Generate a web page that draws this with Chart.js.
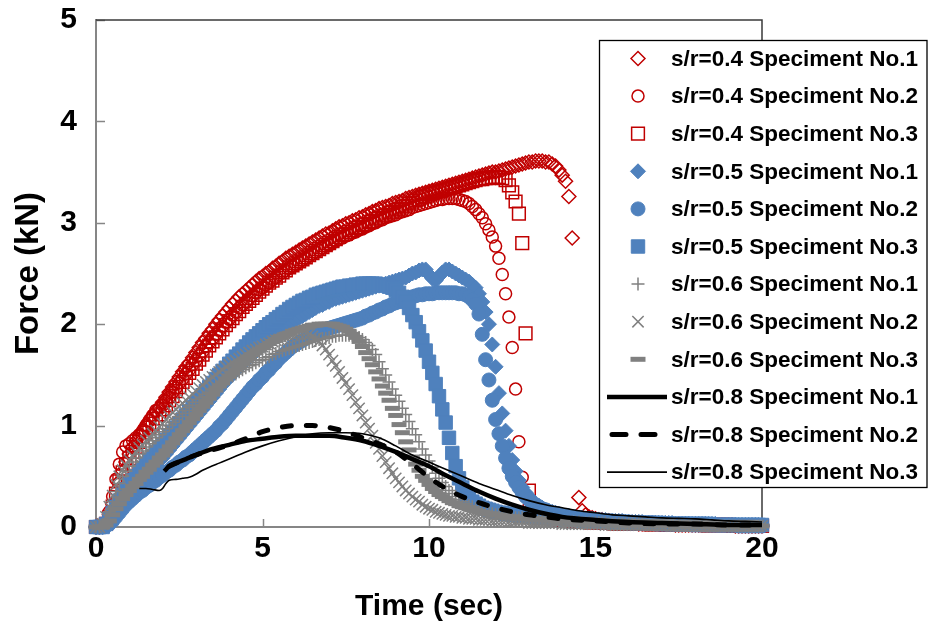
<!DOCTYPE html>
<html>
<head>
<meta charset="utf-8">
<script src="https://cdn.jsdelivr.net/npm/chart.js@4.4.0/dist/chart.umd.min.js"></script>
<style>
  body { margin: 0; background: #fff; }
  #wrap { width: 928px; height: 629px; }
</style>
</head>
<body>
<div id="wrap"><canvas id="forceChart" width="928" height="629"></canvas></div>
<script>
// sample times (sec) shared by the marker series, one row per second
const time = [
  0,0.1,0.2,0.3,0.4,0.5,0.6,0.7,0.8,0.9,
  1,1.1,1.2,1.3,1.4,1.5,1.6,1.7,1.8,1.9,
  2,2.1,2.2,2.3,2.4,2.5,2.6,2.7,2.8,2.9,
  3,3.1,3.2,3.3,3.4,3.5,3.6,3.7,3.8,3.9,
  4,4.1,4.2,4.3,4.4,4.5,4.6,4.7,4.8,4.9,
  5,5.1,5.2,5.3,5.4,5.5,5.6,5.7,5.8,5.9,
  6,6.1,6.2,6.3,6.4,6.5,6.6,6.7,6.8,6.9,
  7,7.1,7.2,7.3,7.4,7.5,7.6,7.7,7.8,7.9,
  8,8.1,8.2,8.3,8.4,8.5,8.6,8.7,8.8,8.9,
  9,9.1,9.2,9.3,9.4,9.5,9.6,9.7,9.8,9.9,
  10,10.1,10.2,10.3,10.4,10.5,10.6,10.7,10.8,10.9,
  11,11.1,11.2,11.3,11.4,11.5,11.6,11.7,11.8,11.9,
  12,12.1,12.2,12.3,12.4,12.5,12.6,12.7,12.8,12.9,
  13,13.1,13.2,13.3,13.4,13.5,13.6,13.7,13.8,13.9,
  14,14.1,14.2,14.3,14.4,14.5,14.6,14.7,14.8,14.9,
  15,15.1,15.2,15.3,15.4,15.5,15.6,15.7,15.8,15.9,
  16,16.1,16.2,16.3,16.4,16.5,16.6,16.7,16.8,16.9,
  17,17.1,17.2,17.3,17.4,17.5,17.6,17.7,17.8,17.9,
  18,18.1,18.2,18.3,18.4,18.5,18.6,18.7,18.8,18.9,
  19,19.1,19.2,19.3,19.4,19.5,19.6,19.7,19.8,19.9,
  20
];

// force (kN) at each sample time
const s04n1 = [
  0,0,0.02,0.06,0.12,0.23,0.35,0.45,0.55,0.64,
  0.72,0.79,0.85,0.9,0.95,1.0,1.05,1.1,1.14,1.18,
  1.23,1.28,1.33,1.38,1.43,1.48,1.53,1.58,1.62,1.67,
  1.72,1.77,1.82,1.86,1.91,1.95,2.0,2.04,2.08,2.12,
  2.16,2.2,2.23,2.27,2.3,2.33,2.36,2.39,2.42,2.45,
  2.47,2.5,2.52,2.55,2.57,2.6,2.62,2.65,2.67,2.69,
  2.71,2.73,2.75,2.77,2.79,2.81,2.83,2.85,2.87,2.89,
  2.9,2.92,2.94,2.96,2.97,2.99,3.0,3.02,3.03,3.05,
  3.06,3.08,3.09,3.11,3.12,3.14,3.15,3.16,3.17,3.19,
  3.2,3.21,3.22,3.24,3.25,3.26,3.27,3.28,3.29,3.3,
  3.31,3.32,3.33,3.34,3.35,3.36,3.37,3.38,3.39,3.4,
  3.41,3.42,3.43,3.44,3.45,3.46,3.47,3.48,3.49,3.5,
  3.5,3.51,3.52,3.53,3.54,3.55,3.56,3.57,3.58,3.59,
  3.6,3.6,3.61,3.61,3.61,3.6,3.6,3.58,3.56,3.52,
  3.47,3.41,3.26,2.85,null,0.29,0.16,0.12,0.1,0.09,
  0.08,0.07,0.07,0.06,0.06,0.05,0.05,0.05,0.04,0.04,
  0.04,0.04,0.04,0.03,0.03,0.03,0.03,0.03,0.03,0.03,
  0.03,0.03,0.03,0.03,0.02,0.02,0.02,0.02,0.02,0.02,
  0.02,0.02,0.02,0.02,0.02,0.02,0.02,0.02,0.02,0.02,
  0.02,0.02,0.01,0.01,0.01,0.01,0.01,0.01,0.01,0.01,
  0.01
];
const s04n2 = [
  0,0,0.02,0.05,0.15,0.3,0.47,0.62,0.74,0.8,
  0.82,0.85,0.88,0.91,0.95,1.0,1.05,1.1,1.15,1.17,
  1.2,1.24,1.28,1.33,1.37,1.42,1.46,1.51,1.55,1.6,
  1.64,1.69,1.73,1.78,1.82,1.86,1.9,1.94,1.98,2.02,
  2.05,2.09,2.12,2.16,2.19,2.22,2.25,2.28,2.31,2.34,
  2.36,2.39,2.41,2.44,2.46,2.49,2.51,2.53,2.55,2.57,
  2.59,2.61,2.63,2.65,2.67,2.69,2.71,2.73,2.75,2.77,
  2.78,2.8,2.82,2.84,2.85,2.87,2.88,2.9,2.91,2.93,
  2.94,2.96,2.97,2.99,3.0,3.02,3.03,3.05,3.06,3.07,
  3.08,3.1,3.11,3.12,3.13,3.15,3.16,3.17,3.18,3.19,
  3.2,3.21,3.22,3.23,3.23,3.24,3.24,3.24,3.24,3.23,
  3.22,3.21,3.19,3.16,3.13,3.09,3.05,2.99,2.93,2.86,
  2.77,2.65,2.49,2.3,2.07,1.77,1.36,0.84,0.49,0.3,
  0.2,0.16,0.13,0.11,0.1,0.09,0.08,0.08,0.07,0.07,
  0.06,0.06,0.06,0.05,0.05,0.05,0.05,0.04,0.04,0.04,
  0.04,0.04,0.04,0.04,0.03,0.03,0.03,0.03,0.03,0.03,
  0.03,0.03,0.03,0.03,0.03,0.02,0.02,0.02,0.02,0.02,
  0.02,0.02,0.02,0.02,0.02,0.02,0.02,0.02,0.02,0.02,
  0.02,0.02,0.01,0.01,0.01,0.01,0.01,0.01,0.01,0.01,
  0.01,0.01,0.01,0.01,0.01,0.01,0.01,0.01,0.01,0.01,
  0.01
];
const s04n3 = [
  0,0,0.01,0.03,0.1,0.2,0.33,0.45,0.54,0.62,
  0.68,0.74,0.79,0.84,0.89,0.93,0.98,1.02,1.07,1.11,
  1.16,1.2,1.25,1.29,1.34,1.38,1.43,1.47,1.52,1.56,
  1.61,1.65,1.7,1.74,1.79,1.83,1.87,1.91,1.95,1.99,
  2.03,2.06,2.1,2.13,2.17,2.2,2.23,2.26,2.29,2.32,
  2.35,2.38,2.41,2.43,2.46,2.48,2.51,2.53,2.56,2.58,
  2.6,2.62,2.64,2.66,2.68,2.7,2.72,2.74,2.76,2.78,
  2.8,2.82,2.84,2.86,2.88,2.89,2.91,2.93,2.95,2.96,
  2.98,2.99,3.01,3.02,3.04,3.05,3.07,3.08,3.1,3.11,
  3.13,3.14,3.16,3.17,3.19,3.2,3.22,3.23,3.25,3.26,
  3.28,3.29,3.3,3.31,3.32,3.33,3.34,3.35,3.36,3.37,
  3.38,3.39,3.4,3.41,3.42,3.43,3.43,3.44,3.44,3.45,
  3.45,3.45,3.44,3.42,3.37,3.3,3.21,3.09,2.8,1.91,
  0.36,0.2,0.16,0.14,0.12,0.11,0.1,0.09,0.08,0.08,
  0.07,0.07,0.07,0.06,0.06,0.06,0.05,0.05,0.05,0.05,
  0.05,0.04,0.04,0.04,0.04,0.04,0.04,0.03,0.03,0.03,
  0.03,0.03,0.03,0.03,0.03,0.03,0.03,0.03,0.03,0.03,
  0.03,0.02,0.02,0.02,0.02,0.02,0.02,0.02,0.02,0.02,
  0.02,0.02,0.02,0.02,0.02,0.02,0.02,0.02,0.02,0.02,
  0.02,0.01,0.01,0.01,0.01,0.01,0.01,0.01,0.01,0.01,
  0.01
];

const s05n1 = [
  0,0,0,0.02,0.05,0.1,0.15,0.2,0.25,0.29,
  0.33,0.37,0.4,0.44,0.47,0.51,0.54,0.58,0.61,0.65,
  0.68,0.72,0.76,0.8,0.84,0.88,0.92,0.96,1.0,1.04,
  1.08,1.12,1.16,1.2,1.24,1.28,1.32,1.36,1.4,1.44,
  1.47,1.51,1.54,1.58,1.61,1.64,1.67,1.7,1.73,1.76,
  1.79,1.82,1.85,1.88,1.9,1.93,1.95,1.98,2.0,2.02,
  2.04,2.06,2.08,2.1,2.12,2.14,2.16,2.18,2.19,2.21,
  2.22,2.24,2.25,2.26,2.27,2.28,2.29,2.3,2.31,2.32,
  2.33,2.34,2.35,2.36,2.37,2.38,2.39,2.4,2.41,2.42,
  2.43,2.44,2.45,2.46,2.48,2.5,2.51,2.53,2.54,2.54,
  2.49,2.45,2.43,2.47,2.51,2.54,2.54,2.52,2.5,2.48,
  2.46,2.44,2.42,2.39,2.36,2.3,2.22,2.12,2.0,1.8,
  1.58,1.32,1.12,0.95,0.8,0.66,0.55,0.46,0.39,0.34,
  0.3,0.26,0.23,0.21,0.19,0.17,0.16,0.15,0.14,0.13,
  0.12,0.11,0.11,0.1,0.1,0.09,0.09,0.08,0.08,0.08,
  0.07,0.07,0.07,0.07,0.06,0.06,0.06,0.06,0.06,0.05,
  0.05,0.05,0.05,0.05,0.05,0.04,0.04,0.04,0.04,0.04,
  0.04,0.04,0.04,0.04,0.03,0.03,0.03,0.03,0.03,0.03,
  0.03,0.03,0.03,0.03,0.03,0.03,0.03,0.02,0.02,0.02,
  0.02,0.02,0.02,0.02,0.02,0.02,0.02,0.02,0.02,0.02,
  0.02
];
const s05n2 = [
  0,0,0,0.01,0.03,0.06,0.1,0.14,0.18,0.22,
  0.25,0.28,0.31,0.34,0.36,0.39,0.41,0.44,0.46,0.49,
  0.51,0.54,0.56,0.59,0.61,0.64,0.66,0.69,0.71,0.74,
  0.77,0.8,0.83,0.86,0.89,0.92,0.95,0.99,1.02,1.06,
  1.1,1.14,1.18,1.22,1.26,1.3,1.34,1.38,1.41,1.45,
  1.48,1.52,1.55,1.59,1.62,1.66,1.69,1.72,1.75,1.78,
  1.8,1.82,1.84,1.86,1.88,1.9,1.91,1.93,1.94,1.95,
  1.96,1.97,1.98,1.99,2.0,2.01,2.02,2.03,2.04,2.05,
  2.06,2.08,2.09,2.11,2.12,2.14,2.15,2.17,2.18,2.2,
  2.21,2.23,2.24,2.25,2.26,2.27,2.28,2.29,2.29,2.3,
  2.3,2.3,2.31,2.31,2.31,2.31,2.31,2.31,2.31,2.3,
  2.3,2.29,2.27,2.24,2.2,2.1,1.9,1.65,1.45,1.25,
  1.06,0.92,0.8,0.68,0.58,0.5,0.44,0.39,0.34,0.3,
  0.27,0.24,0.22,0.2,0.18,0.17,0.15,0.14,0.13,0.12,
  0.11,0.11,0.1,0.1,0.09,0.09,0.08,0.08,0.08,0.07,
  0.07,0.07,0.06,0.06,0.06,0.06,0.05,0.05,0.05,0.05,
  0.05,0.04,0.04,0.04,0.04,0.04,0.04,0.04,0.03,0.03,
  0.03,0.03,0.03,0.03,0.03,0.03,0.03,0.03,0.03,0.02,
  0.02,0.02,0.02,0.02,0.02,0.02,0.02,0.02,0.02,0.02,
  0.02,0.02,0.02,0.01,0.01,0.01,0.01,0.01,0.01,0.01,
  0.01
];
const s05n3 = [
  0,0,0,0.03,0.08,0.14,0.2,0.26,0.32,0.37,
  0.42,0.46,0.5,0.54,0.58,0.62,0.66,0.7,0.74,0.78,
  0.82,0.86,0.9,0.94,0.98,1.02,1.06,1.1,1.14,1.18,
  1.22,1.26,1.3,1.34,1.38,1.42,1.46,1.5,1.54,1.57,
  1.61,1.64,1.68,1.71,1.75,1.78,1.82,1.85,1.88,1.91,
  1.94,1.97,2.0,2.02,2.05,2.07,2.1,2.12,2.15,2.17,
  2.19,2.21,2.23,2.24,2.26,2.27,2.29,2.3,2.31,2.32,
  2.33,2.34,2.35,2.36,2.37,2.37,2.38,2.38,2.39,2.39,
  2.4,2.4,2.4,2.4,2.4,2.39,2.39,2.38,2.37,2.36,
  2.34,2.31,2.27,2.22,2.16,2.09,2.02,1.93,1.84,1.74,
  1.63,1.52,1.41,1.29,1.16,1.03,0.88,0.73,0.6,0.48,
  0.39,0.32,0.28,0.25,0.23,0.21,0.19,0.18,0.17,0.16,
  0.15,0.14,0.14,0.13,0.13,0.12,0.12,0.11,0.11,0.11,
  0.1,0.1,0.1,0.09,0.09,0.09,0.09,0.08,0.08,0.08,
  0.08,0.07,0.07,0.07,0.07,0.07,0.06,0.06,0.06,0.06,
  0.06,0.06,0.05,0.05,0.05,0.05,0.05,0.05,0.05,0.04,
  0.04,0.04,0.04,0.04,0.04,0.04,0.04,0.04,0.04,0.04,
  0.03,0.03,0.03,0.03,0.03,0.03,0.03,0.03,0.03,0.03,
  0.03,0.03,0.03,0.03,0.03,0.02,0.02,0.02,0.02,0.02,
  0.02,0.02,0.02,0.02,0.02,0.02,0.02,0.02,0.02,0.02,
  0.02
];

const s06n1 = [
  0,0,0.02,0.07,0.15,0.25,0.35,0.43,0.5,0.55,
  0.6,0.64,0.68,0.72,0.75,0.79,0.82,0.85,0.88,0.91,
  0.94,0.97,1.0,1.03,1.06,1.09,1.12,1.15,1.18,1.2,
  1.23,1.26,1.28,1.31,1.33,1.36,1.38,1.41,1.43,1.45,
  1.47,1.49,1.51,1.53,1.55,1.57,1.59,1.6,1.62,1.64,
  1.65,1.67,1.68,1.7,1.71,1.73,1.74,1.75,1.76,1.77,
  1.78,1.79,1.8,1.81,1.82,1.83,1.84,1.85,1.86,1.86,
  1.87,1.88,1.88,1.89,1.89,1.89,1.89,1.89,1.88,1.87,
  1.85,1.82,1.79,1.75,1.7,1.63,1.56,1.5,1.43,1.36,
  1.3,1.24,1.17,1.11,1.04,0.97,0.91,0.84,0.77,0.71,
  0.65,0.59,0.53,0.48,0.44,0.4,0.36,0.33,0.3,0.27,
  0.25,0.23,0.21,0.2,0.18,0.17,0.16,0.15,0.14,0.13,
  0.12,0.12,0.11,0.11,0.1,0.1,0.09,0.09,0.09,0.08,
  0.08,0.08,0.07,0.07,0.07,0.07,0.06,0.06,0.06,0.06,
  0.05,0.05,0.05,0.05,0.05,0.05,0.04,0.04,0.04,0.04,
  0.04,0.04,0.04,0.04,0.03,0.03,0.03,0.03,0.03,0.03,
  0.03,0.03,0.03,0.03,0.03,0.02,0.02,0.02,0.02,0.02,
  0.02,0.02,0.02,0.02,0.02,0.02,0.02,0.02,0.02,0.02,
  0.02,0.02,0.01,0.01,0.01,0.01,0.01,0.01,0.01,0.01,
  0.01,0.01,0.01,0.01,0.01,0.01,0.01,0.01,0.01,0.01,
  0.01
];
const s06n2 = [
  0,0,0.03,0.1,0.2,0.31,0.42,0.5,0.56,0.61,
  0.66,0.7,0.74,0.78,0.81,0.85,0.88,0.92,0.95,0.99,
  1.02,1.06,1.09,1.13,1.16,1.19,1.22,1.25,1.28,1.31,
  1.34,1.37,1.4,1.43,1.45,1.48,1.5,1.53,1.55,1.58,
  1.6,1.62,1.64,1.66,1.68,1.7,1.72,1.74,1.75,1.77,
  1.78,1.8,1.81,1.83,1.84,1.85,1.86,1.87,1.88,1.89,
  1.9,1.91,1.91,1.91,1.9,1.88,1.86,1.83,1.79,1.75,
  1.7,1.64,1.59,1.53,1.47,1.42,1.36,1.3,1.23,1.17,
  1.1,1.03,0.97,0.9,0.83,0.77,0.7,0.64,0.58,0.53,
  0.48,0.44,0.4,0.36,0.33,0.3,0.27,0.25,0.22,0.2,
  0.18,0.17,0.15,0.14,0.13,0.12,0.11,0.11,0.1,0.1,
  0.09,0.09,0.08,0.08,0.08,0.07,0.07,0.07,0.07,0.06,
  0.06,0.06,0.06,0.06,0.05,0.05,0.05,0.05,0.05,0.05,
  0.04,0.04,0.04,0.04,0.04,0.04,0.04,0.04,0.04,0.04,
  0.03,0.03,0.03,0.03,0.03,0.03,0.03,0.03,0.03,0.03,
  0.03,0.03,0.03,0.02,0.02,0.02,0.02,0.02,0.02,0.02,
  0.02,0.02,0.02,0.02,0.02,0.02,0.02,0.02,0.02,0.02,
  0.02,0.02,0.02,0.01,0.01,0.01,0.01,0.01,0.01,0.01,
  0.01,0.01,0.01,0.01,0.01,0.01,0.01,0.01,0.01,0.01,
  0.01,0.01,0.01,0.01,0.01,0.01,0.01,0.01,0.01,0.01,
  0.01
];
const s06n3 = [
  0,0,0,0.02,0.06,0.12,0.18,0.23,0.28,0.32,
  0.36,0.4,0.43,0.47,0.5,0.54,0.57,0.61,0.64,0.68,
  0.71,0.75,0.79,0.83,0.87,0.91,0.95,0.99,1.03,1.07,
  1.11,1.15,1.19,1.23,1.27,1.31,1.35,1.39,1.42,1.46,
  1.49,1.52,1.55,1.58,1.61,1.64,1.67,1.7,1.72,1.75,
  1.77,1.79,1.81,1.83,1.85,1.87,1.88,1.9,1.91,1.93,
  1.94,1.95,1.96,1.97,1.98,1.99,1.99,2.0,2.0,2.0,
  2.0,2.0,1.99,1.98,1.97,1.95,1.93,1.9,1.87,1.83,
  1.78,1.72,1.66,1.6,1.53,1.46,1.39,1.32,1.25,1.17,
  1.1,1.01,0.93,0.84,0.76,0.69,0.62,0.56,0.5,0.46,
  0.42,0.38,0.35,0.32,0.3,0.28,0.26,0.24,0.23,0.21,
  0.2,0.19,0.18,0.17,0.16,0.15,0.14,0.14,0.13,0.13,
  0.12,0.12,0.11,0.11,0.1,0.1,0.1,0.09,0.09,0.09,
  0.08,0.08,0.08,0.08,0.07,0.07,0.07,0.07,0.06,0.06,
  0.06,0.06,0.06,0.05,0.05,0.05,0.05,0.05,0.05,0.04,
  0.04,0.04,0.04,0.04,0.04,0.04,0.03,0.03,0.03,0.03,
  0.03,0.03,0.03,0.03,0.03,0.03,0.03,0.03,0.02,0.02,
  0.02,0.02,0.02,0.02,0.02,0.02,0.02,0.02,0.02,0.02,
  0.02,0.02,0.02,0.02,0.02,0.01,0.01,0.01,0.01,0.01,
  0.01,0.01,0.01,0.01,0.01,0.01,0.01,0.01,0.01,0.01,
  0.01
];

// the s/r=0.8 curves are plain lines: [time, force] pairs
const s08n1 = [[2.05,0.55],[2.2,0.6],[2.4,0.63],[2.7,0.67],[3.0,0.71],[3.5,0.77],[4.0,0.81],[4.5,0.85],[5.0,0.87],[5.5,0.89],[6.0,0.9],[6.5,0.9],[7.0,0.9],[7.5,0.88],[8.0,0.85],[8.5,0.8],[9.0,0.74],[9.5,0.67],[10.0,0.6],[10.5,0.51],[11.0,0.43],[11.5,0.35],[12.0,0.28],[12.5,0.22],[13.0,0.17],[13.5,0.13],[14,0.1],[15,0.07],[16,0.05],[17,0.04],[18,0.03],[19,0.02],[20,0.02]];
const s08n2 = [[2.2,0.6],[2.4,0.63],[2.7,0.67],[3.0,0.71],[3.5,0.76],[4.0,0.81],[4.5,0.87],[5.0,0.94],[5.5,0.98],[6.0,1.0],[6.5,1.0],[7.0,0.98],[7.5,0.94],[8.0,0.88],[8.5,0.82],[9.0,0.74],[9.5,0.62],[10.0,0.49],[10.5,0.38],[11.0,0.3],[11.5,0.24],[12.0,0.19],[12.5,0.15],[13,0.12],[13.5,0.1],[14,0.08],[15,0.06],[16,0.04],[17,0.03],[18,0.03],[19,0.02],[20,0.02]];
const s08n3 = [[1.3,0.38],[1.5,0.38],[1.7,0.37],[1.9,0.36],[2.0,0.38],[2.1,0.43],[2.2,0.46],[2.4,0.47],[2.6,0.48],[2.8,0.49],[3.0,0.52],[3.2,0.56],[3.4,0.59],[3.7,0.63],[4.0,0.67],[4.5,0.74],[5.0,0.8],[5.5,0.85],[6.0,0.89],[6.5,0.92],[7.0,0.93],[7.5,0.93],[8.0,0.92],[8.5,0.88],[9.0,0.8],[9.5,0.71],[10.0,0.64],[10.5,0.57],[11.0,0.5],[11.5,0.43],[12.0,0.37],[12.5,0.31],[13.0,0.26],[13.5,0.22],[14.0,0.19],[14.5,0.16],[15.0,0.14],[15.5,0.12],[16.0,0.11],[16.5,0.1],[17.0,0.09],[17.5,0.085],[18.0,0.08],[18.5,0.07],[19.0,0.06],[19.5,0.055],[20.0,0.05]];

const seriesLabels = [
  's/r=0.4 Speciment No.1', 's/r=0.4 Speciment No.2', 's/r=0.4 Speciment No.3',
  's/r=0.5 Speciment No.1', 's/r=0.5 Speciment No.2', 's/r=0.5 Speciment No.3',
  's/r=0.6 Speciment No.1', 's/r=0.6 Speciment No.2', 's/r=0.6 Speciment No.3',
  's/r=0.8 Speciment No.1', 's/r=0.8 Speciment No.2', 's/r=0.8 Speciment No.3'
];
const markerSeries = [s04n1, s04n2, s04n3, s05n1, s05n2, s05n3, s06n1, s06n2, s06n3];
const lineSeries = [s08n1, s08n2, s08n3];
const xTicks = [0, 5, 10, 15, 20];
const yTicks = [0, 1, 2, 3, 4, 5];

const RED = '#C00000';
const BLUE = '#4F81BD';
const GRAY = '#808080';
const NONE = 'rgba(0,0,0,0)';
const FONT = "'Liberation Sans', Arial, sans-serif";

// marker / line look for each series
const styles = [
  { pointStyle: 'rectRot', radius: 7, border: RED, fill: NONE, bw: 1.5 },
  { pointStyle: 'circle', radius: 6, border: RED, fill: NONE, bw: 1.5 },
  { pointStyle: 'rect', radius: 9, border: RED, fill: NONE, bw: 1.5 },
  { pointStyle: 'rectRot', radius: 7.5, border: BLUE, fill: BLUE, bw: 1 },
  { pointStyle: 'circle', radius: 7, border: BLUE, fill: BLUE, bw: 1 },
  { pointStyle: 'rect', radius: 9.5, border: BLUE, fill: BLUE, bw: 1 },
  { pointStyle: 'cross', radius: 6.5, border: GRAY, fill: NONE, bw: 1.5 },
  { pointStyle: 'crossRot', radius: 8, border: GRAY, fill: NONE, bw: 1.5 },
  { pointStyle: 'line', radius: 7.5, border: GRAY, fill: NONE, bw: 5 },
  { line: true, width: 4.5, dash: [] },
  { line: true, width: 5, dash: [9, 15] },
  { line: true, width: 1.6, dash: [] }
];

const datasets = [];
markerSeries.forEach((vals, i) => {
  const st = styles[i];
  datasets.push({
    label: seriesLabels[i],
    data: time.map((t, k) => ({ x: t, y: vals[k] })),
    showLine: false,
    pointStyle: st.pointStyle, pointRadius: st.radius,
    pointBorderColor: st.border, pointBackgroundColor: st.fill, pointBorderWidth: st.bw,
    clip: false,
    order: -i
  });
});
lineSeries.forEach((pairs, j) => {
  const i = j + 9;
  const st = styles[i];
  datasets.push({
    label: seriesLabels[i],
    data: pairs.map(p => ({ x: p[0], y: p[1] })),
    showLine: true, pointRadius: 0,
    borderColor: '#000', backgroundColor: '#000',
    borderWidth: st.width, borderDash: st.dash,
    borderCapStyle: st.dash.length ? 'round' : 'butt',
    cubicInterpolationMode: 'monotone',
    clip: false,
    order: -i
  });
});

// inward tick marks and the dark top/right frame
const framePlugin = {
  id: 'frame',
  beforeDatasetsDraw(chart) {
    const { ctx, chartArea: a, scales: { x, y } } = chart;
    ctx.save();
    ctx.strokeStyle = '#868686';
    ctx.lineWidth = 1.5;
    yTicks.forEach(v => {
      const py = Math.round(y.getPixelForValue(v)) + 0.5;
      ctx.beginPath(); ctx.moveTo(a.left, py); ctx.lineTo(a.left + 9, py); ctx.stroke();
    });
    xTicks.forEach(v => {
      const px = Math.round(x.getPixelForValue(v)) + 0.5;
      ctx.beginPath(); ctx.moveTo(px, a.bottom); ctx.lineTo(px, a.bottom - 8); ctx.stroke();
    });
    ctx.strokeStyle = '#3a3a3a';
    ctx.lineWidth = 1.5;
    ctx.beginPath();
    ctx.moveTo(a.left, a.top); ctx.lineTo(a.right, a.top); ctx.lineTo(a.right, a.bottom);
    ctx.stroke();
    ctx.restore();
  }
};

// boxed legend sitting over the right side of the plot
const legendPlugin = {
  id: 'boxLegend',
  afterDatasetsDraw(chart) {
    const ctx = chart.ctx;
    const box = { left: 599.5, top: 40.5, right: 927, bottom: 487.5 };
    ctx.save();
    ctx.fillStyle = '#fff';
    ctx.fillRect(box.left, box.top, box.right - box.left, box.bottom - box.top);
    ctx.strokeStyle = '#000';
    ctx.lineWidth = 1.3;
    ctx.strokeRect(box.left, box.top, box.right - box.left, box.bottom - box.top);
    const rowH = 37.6;
    seriesLabels.forEach((label, i) => {
      const cy = 58.5 + i * rowH;
      const st = styles[i];
      if (st.line) {
        ctx.save();
        ctx.strokeStyle = '#000';
        ctx.lineWidth = st.width;
        ctx.setLineDash(st.dash.length ? [14, 15] : []);
        ctx.lineCap = st.dash.length ? 'round' : 'butt';
        ctx.beginPath();
        ctx.moveTo(st.dash.length ? 612 : 607, cy); ctx.lineTo(667, cy);
        ctx.stroke();
        ctx.restore();
      } else {
        ctx.save();
        ctx.strokeStyle = st.border;
        ctx.fillStyle = st.fill;
        ctx.lineWidth = st.bw;
        Chart.helpers.drawPoint(ctx, { pointStyle: st.pointStyle, radius: st.radius, rotation: 0, borderWidth: st.bw }, 638, cy);
        ctx.restore();
      }
      ctx.fillStyle = '#000';
      ctx.font = 'bold 22.5px ' + FONT;
      ctx.textBaseline = 'middle';
      ctx.textAlign = 'left';
      ctx.fillText(label, 671, cy + 1);
    });
    ctx.restore();
  }
};

const chart = new Chart(document.getElementById('forceChart'), {
  type: 'scatter',
  data: { datasets: datasets },
  options: {
    responsive: false,
    animation: false,
    events: [],
    layout: { padding: { left: 0, right: 166, top: 20, bottom: 0 } },
    plugins: { legend: { display: false }, tooltip: { enabled: false } },
    scales: {
      x: {
        type: 'linear', min: 0, max: 20,
        afterBuildTicks: s => { s.ticks = xTicks.map(v => ({ value: v })); },
        afterFit: s => { s.height = 102; },
        grid: { display: false, drawTicks: false },
        border: { color: '#868686', width: 2 },
        ticks: { color: '#000', padding: 4, font: { family: FONT, size: 30, weight: 'bold' } },
        title: { display: true, text: 'Time (sec)', color: '#000', padding: { top: 0, bottom: 4 },
                 font: { family: FONT, size: 30, weight: 'bold' } }
      },
      y: {
        type: 'linear', min: 0, max: 5,
        afterBuildTicks: s => { s.ticks = yTicks.map(v => ({ value: v })); },
        // fixed axis width; drop the label overhang so the plot top sits at the layout padding
        afterFit: s => { s.width = 96; s.paddingTop = 0; s.paddingBottom = 0; },
        grid: { display: false, drawTicks: false },
        border: { color: '#868686', width: 2 },
        ticks: { color: '#000', padding: 19, font: { family: FONT, size: 30, weight: 'bold' } },
        title: { display: true, text: 'Force (kN)', color: '#000', padding: { top: 9, bottom: 0 },
                 font: { family: FONT, size: 33, weight: 'bold' } }
      }
    }
  },
  plugins: [framePlugin, legendPlugin]
});
</script>
</body>
</html>
